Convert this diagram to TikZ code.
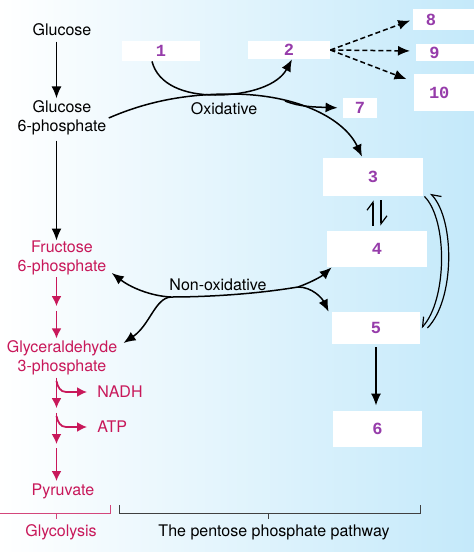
\documentclass[tikz,border=0pt]{standalone}
\usepackage{fontspec}
\setmainfont{TeX Gyre Heros}
\setmonofont{Liberation Mono}
\usetikzlibrary{arrows.meta}
\definecolor{glyred}{RGB}{200,24,90}
\definecolor{numpurple}{RGB}{150,60,170}
\definecolor{bgblue}{RGB}{196,233,250}
\tikzset{
  arr/.style={-{Latex[length=6pt,width=5pt]}, line width=0.75pt},
  redarr/.style={-{Latex[length=5pt,width=5pt]}, line width=0.9pt, glyred},
  harp/.style={-{Straight Barb[harpoon,length=4pt,width=6pt]}, line width=0.6pt},
  numbox/.style={fill=white, inner sep=0pt, text=numpurple,
    font=\ttfamily\bfseries\fontsize{8.5}{8.5}\selectfont},
  lbl/.style={font=\fontsize{8}{9.5}\selectfont, align=center, inner sep=1pt},
}
\begin{document}
\begin{tikzpicture}[x=0.5pt,y=-0.5pt]
\useasboundingbox (0,0) rectangle (474,552);
\shade[left color=white, right color=bgblue] (0,0) rectangle (474,552);

% glycolysis column
\coordinate (col) at (56.5,0);
\node[lbl] (glc) at (62,30) {Glucose};
\node[lbl] (g6p) at (62,118) {Glucose\\6-phosphate};
\node[lbl, text=glyred] (f6p) at (62,258) {Fructose\\6-phosphate};
\node[lbl, text=glyred] (gap) at (62,358) {Glyceraldehyde\\3-phosphate};
\node[lbl, text=glyred] (pyr) at (63,491) {Pyruvate};
\node[lbl, text=glyred, anchor=west] (nadh) at (95,392) {NADH};
\node[lbl, text=glyred, anchor=west] (atp) at (95,427) {ATP};

\draw[arr, shorten <=1.5pt] (col |- glc.south) -- (col |- g6p.north);
\draw[arr, shorten <=1.5pt, shorten >=-1pt] (col |- g6p.south) -- (col |- f6p.north);

\coordinate (r1) at (56.5,308.5);
\coordinate (r2) at (56.5,410.5);
\coordinate (r3) at (56.5,446);
\draw[redarr, shorten >=1.2pt] (col |- f6p.south) -- (r1);
\draw[redarr, shorten <=1.2pt] (r1) -- (col |- gap.north);
\draw[redarr, shorten >=1.2pt] (col |- gap.south) -- (r2);
\draw[redarr, shorten <=1.2pt, shorten >=1pt] (r2) -- (r3);
\draw[redarr, shorten <=1pt] (r3) -- (col |- pyr.north);
% side products
\coordinate (nfork) at (56.5,381);
\coordinate (afork) at (56.5,416);
\draw[redarr, shorten >=4pt] (nfork) to[out=-80,in=180] (66,392) -- (nadh.west);
\draw[redarr, shorten >=4pt] (afork) to[out=-80,in=180] (66,427) -- (atp.west);

% brackets
\draw[glyred!80, line width=0.5pt] (0,513) -- (110,513) -- (110,505);
\draw[glyred!80, line width=0.5pt] (56,513) -- (56,519);
\draw[black!75, line width=0.5pt] (119,505) -- (119,513) -- (420,513) -- (420,505);
\draw[black!75, line width=0.5pt] (268,513) -- (268,519);
\node[lbl, text=glyred] (glylbl) at (61,532) {Glycolysis};
\node[lbl] (ppplbl) at (274,532) {The pentose phosphate pathway};

% boxes
\node[numbox, minimum width=39pt, minimum height=10pt] (b1) at (161,51) {1};
\node[numbox, minimum width=41pt, minimum height=9pt] (b2) at (289,50) {2};
\node[numbox, minimum width=50pt, minimum height=19pt] (b3) at (373,177) {3};
\node[numbox, minimum width=50pt, minimum height=18pt] (b4) at (377,249) {4};
\node[numbox, minimum width=44pt, minimum height=16pt] (b5) at (376,328) {5};
\node[numbox, minimum width=44.5pt, minimum height=18pt] (b6) at (377.5,429) {6};
\node[numbox, minimum width=17pt, minimum height=10pt] (b7) at (360,108) {7};
\node[numbox, anchor=west, text width=30pt, align=left, inner xsep=6.2pt,
  minimum height=10.5pt] (b8) at (413,19.5) {8};
\node[numbox, anchor=west, text width=30pt, align=left, inner xsep=6.5pt,
  minimum height=8.5pt] (b9) at (416,52.5) {9};
\node[numbox, anchor=west, text width=30pt, align=left, inner xsep=7.3pt,
  minimum height=18.5pt] (b10) at (414,92.5) {10};

% oxidative phase
\node[lbl] (oxlbl) at (224,109) {Oxidative};
\draw[arr] ([xshift=-4.5pt]b1.south) .. controls (158,85) and (185,95) .. (215,95)
  .. controls (250,95) and (278,85) .. ([xshift=1.5pt]b2.south);
\draw[arr] (g6p.east) .. controls (150,100) and (190,94) .. (230,94)
  .. controls (300,94) and (345,120) .. ([xshift=-5.5pt,yshift=0.5pt]b3.north);
\coordinate (ox7) at (285,101);
\draw[arr, shorten >=2.5pt] (ox7) .. controls (300,107) and (315,107) .. (b7.west);
\draw[arr, dashed, dash pattern=on 2.5pt off 1.5pt, shorten >=1.5pt] (b2.east) -- (b8.west);
\draw[arr, dashed, dash pattern=on 2.5pt off 1.5pt, shorten >=3pt] (b2.east) -- ([yshift=0.75pt]b9.west);
\draw[arr, dashed, dash pattern=on 2.5pt off 1.5pt, shorten >=4pt] (b2.east) -- ([yshift=5.25pt]b10.west);

% 3 <-> 4 and 3 <-> 5
\draw[harp, shorten <=2.5pt, shorten >=2pt] ([xshift=-2pt]b4.north) -- ([xshift=-2pt]b4.north |- b3.south);
\draw[harp, shorten <=2pt, shorten >=2.5pt] ([xshift=2pt]b4.north |- b3.south) -- ([xshift=2pt]b4.north);
\draw[-{Straight Barb[harpoon,swap,length=4pt,width=6pt]}, line width=0.6pt]
  ([xshift=3.5pt]b5.east) .. controls (455,300) and (455,220) .. ([shift={(3.5pt,1.5pt)}]b3.south east);
\draw[-{Straight Barb[harpoon,swap,length=4pt,width=6pt]}, line width=0.6pt]
  ([xshift=0.5pt]b3.south east) .. controls (448,220) and (447,300) .. ([xshift=0.5pt]b5.east);
\draw[arr, shorten <=1.5pt, shorten >=2.5pt] (b5.south) -- (b5.south |- b6.north);

% non-oxidative phase
\node[lbl] (nonoxlbl) at (218,285) {Non-oxidative};
\coordinate (nx) at (171,297);
\coordinate (ny) at (298,287);
\draw[arr] (ny) .. controls (250,295) and (200,297) .. (nx)
  .. controls (150,296) and (130,287) .. ([xshift=1.5pt,yshift=-7.5pt]f6p.east);
\draw[arr] (nx) .. controls (155,298) and (150,325) .. ([xshift=2pt,yshift=7.5pt]gap.east);
\draw[arr] (ny) .. controls (312,282) and (322,276) .. ([xshift=2.5pt]b4.south west);
\draw[arr] (ny) .. controls (312,287) and (322,298) .. ([xshift=-1.5pt]b5.north west);
\end{tikzpicture}
\end{document}
